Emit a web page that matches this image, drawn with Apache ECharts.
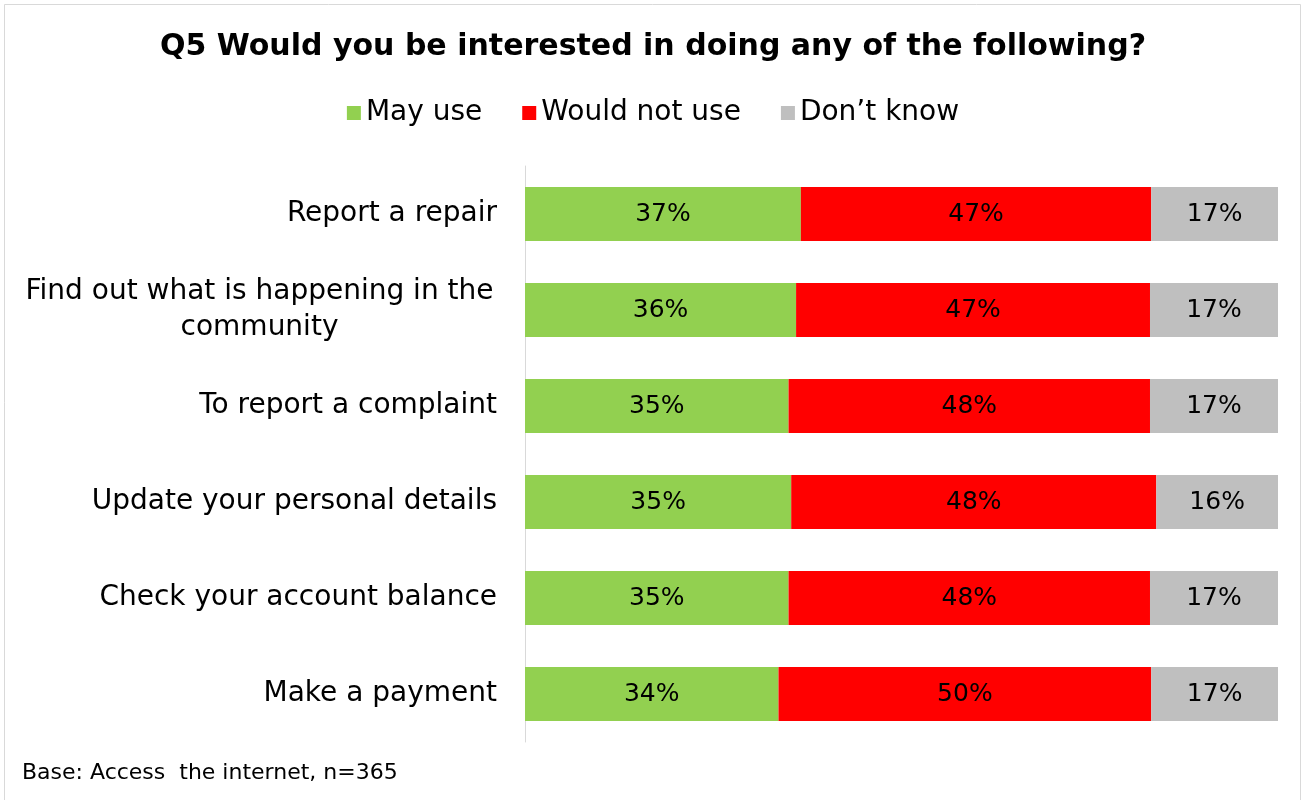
<!DOCTYPE html>
<html>
<head>
<meta charset="utf-8">
<script src="https://cdn.jsdelivr.net/npm/echarts@6/dist/echarts.min.js"></script>
<style>
  html, body { margin: 0; padding: 0; background: #fff; }
  #chart { width: 1306px; height: 800px; }
</style>
</head>
<body>
<div id="chart"></div>
<script>
// Survey question and answer categories
const titleText = 'Q5 Would you be interested in doing any of the following?';
const baseNote = 'Base: Access  the internet, n=365';
const categories = [
  'Report a repair',
  'Find out what is happening in the\ncommunity',
  'To report a complaint',
  'Update your personal details',
  'Check your account balance',
  'Make a payment'
];
const seriesNames = ['May use', 'Would not use', 'Don\u2019t know'];
const mayUse = [37, 36, 35, 35, 35, 34];
const wouldNotUse = [47, 47, 48, 48, 48, 50];
const dontKnow = [17, 17, 17, 16, 17, 17];
const colors = ['#92D050', '#FF0000', '#BFBFBF'];

const FONT = 'DejaVu Sans';
const raw = [mayUse, wouldNotUse, dontKnow];
// Each row is shown as a 100% stacked bar: shares are taken of the row total
const totals = categories.map((_, i) => raw.reduce((s, arr) => s + arr[i], 0));

const chart = echarts.init(document.getElementById('chart'), null, { renderer: 'canvas' });

const series = raw.map((arr, k) => ({
  name: seriesNames[k],
  type: 'bar',
  stack: 'total',
  barWidth: '56%',
  itemStyle: { color: colors[k] },
  label: {
    show: true,
    position: 'inside',
    color: '#000',
    fontFamily: FONT,
    fontSize: 25,
    formatter: p => raw[k][p.dataIndex] + '%'
  },
  data: arr.map((v, i) => v / totals[i] * 100)
}));

chart.setOption({
  animation: false,
  backgroundColor: '#fff',
  title: {
    text: titleText,
    left: 'center',
    top: 27,
    textStyle: { fontFamily: FONT, fontSize: 30, fontWeight: 'bold', color: '#000' }
  },
  legend: {
    top: 94,
    left: 'center',
    icon: 'rect',
    itemWidth: 14,
    itemHeight: 14,
    itemGap: 40,
    textStyle: { fontFamily: FONT, fontSize: 28, color: '#000' },
    data: seriesNames
  },
  grid: { left: 525, right: 28, top: 166, bottom: 58, containLabel: false },
  xAxis: {
    type: 'value',
    min: 0,
    max: 100,
    show: false
  },
  yAxis: {
    type: 'category',
    inverse: true,
    data: categories,
    axisLine: { show: true, lineStyle: { color: '#D9D9D9', width: 1 } },
    axisTick: { show: false },
    axisLabel: {
      margin: 28,
      color: '#000',
      fontFamily: FONT,
      fontSize: 28,
      lineHeight: 36,
      formatter: v => v.indexOf('\n') >= 0
        ? v.split('\n').map(l => '{w|' + l + '}').join('\n')
        : v,
      rich: {
        w: { width: 475, align: 'center', fontFamily: FONT, fontSize: 28, color: '#000', lineHeight: 36 }
      }
    }
  },
  graphic: [
    {
      type: 'rect',
      shape: { x: 4.5, y: 4.5, width: 1296, height: 900 },
      style: { fill: 'none', stroke: '#D9D9D9', lineWidth: 1 },
      silent: true
    },
    {
      type: 'text',
      left: 22,
      top: 762,
      style: { text: baseNote, fontFamily: FONT, fontSize: 22, fill: '#000' }
    }
  ],
  series: series
});
</script>
</body>
</html>
